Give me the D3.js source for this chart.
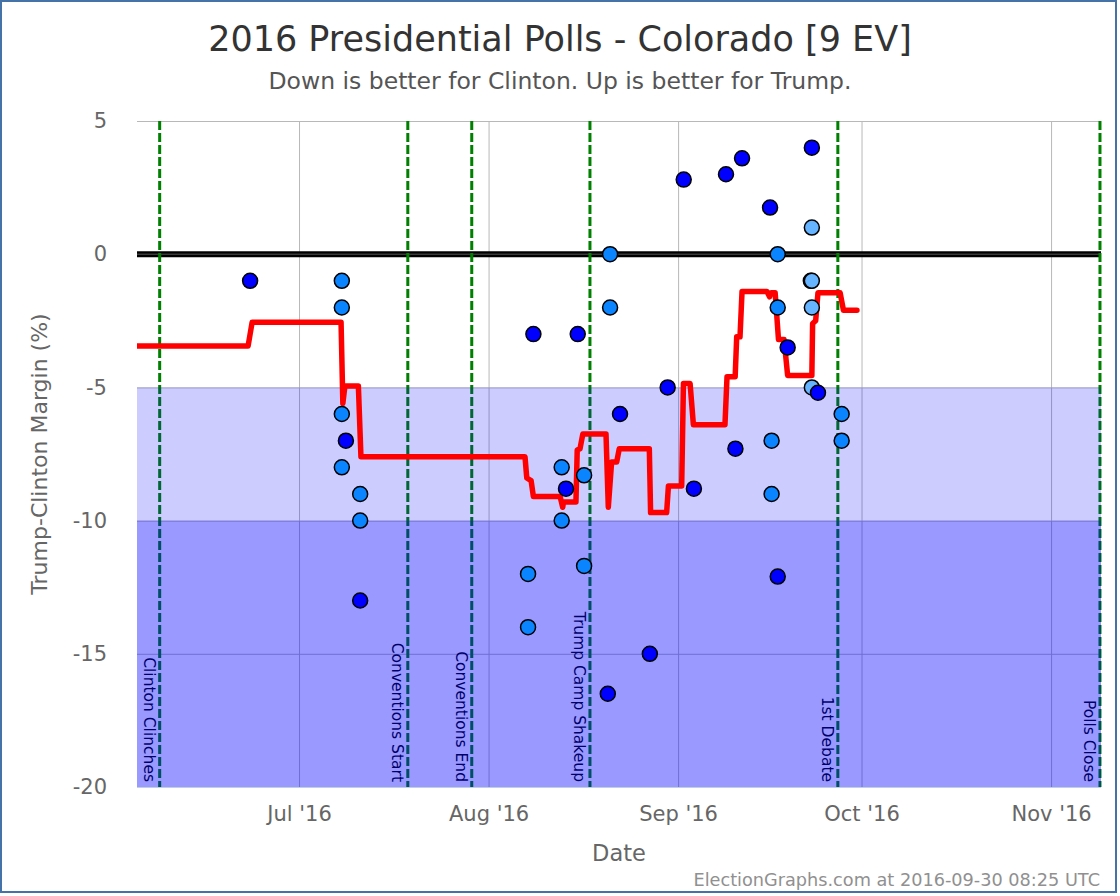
<!DOCTYPE html>
<html><head><meta charset="utf-8">
<script src="https://cdn.jsdelivr.net/npm/d3@7"></script>
<style>
body{margin:0;background:#fff}
svg{display:block}
text{font-family:"DejaVu Sans",sans-serif}
</style>
</head><body>
<svg id="c" width="1120" height="896"></svg>
<script>
// ---------- data ----------
const titleText = "2016 Presidential Polls - Colorado [9 EV]";
const subtitleText = "Down is better for Clinton. Up is better for Trump.";
const yAxisTitle = "Trump-Clinton Margin (%)";
const xAxisTitle = "Date";
const footerText = "ElectionGraphs.com at 2016-09-30 08:25 UTC";

const yTicks = [5, 0, -5, -10, -15, -20];
const xTickDates = ["2016-07-01", "2016-08-01", "2016-09-01", "2016-10-01", "2016-11-01"];
const xTickLabels = ["Jul '16", "Aug '16", "Sep '16", "Oct '16", "Nov '16"];

const bandFrom = [-5, -10];
const bandTo = [-10, -20];

const eventDates = ["2016-06-08T05:00", "2016-07-18T19:00", "2016-07-29T06:00", "2016-08-17T14:00", "2016-09-27T03:00", "2016-11-09T00:00"];
const eventLabels = ["Clinton Clinches", "Conventions Start", "Conventions End", "Trump Camp Shakeup", "1st Debate", "Polls Close"];

const avgDates = [
  "2016-06-04T12:00", "2016-06-22T16:00", "2016-06-23T08:00", "2016-07-07T21:00", "2016-07-08T04:00",
  "2016-07-08T12:00", "2016-07-10T17:00", "2016-07-11T03:00", "2016-08-06T23:00", "2016-08-07T06:00",
  "2016-08-07T23:00", "2016-08-08T08:00", "2016-08-12T17:00", "2016-08-13T03:00", "2016-08-13T06:00",
  "2016-08-15T07:00", "2016-08-15T12:00", "2016-08-15T23:00", "2016-08-16T10:00", "2016-08-20T05:00",
  "2016-08-20T14:00", "2016-08-21T03:00", "2016-08-21T23:00", "2016-08-22T09:00", "2016-08-27T07:00",
  "2016-08-27T12:00", "2016-08-30T03:00", "2016-08-30T10:00", "2016-09-01T14:00", "2016-09-01T21:00",
  "2016-09-02T23:00", "2016-09-03T12:00", "2016-09-08T16:00", "2016-09-09T00:00", "2016-09-10T08:00",
  "2016-09-10T14:00", "2016-09-11T03:00", "2016-09-11T11:00", "2016-09-15T13:00", "2016-09-15T23:00",
  "2016-09-16T05:00", "2016-09-16T21:00", "2016-09-17T10:00", "2016-09-18T08:00", "2016-09-18T22:00",
  "2016-09-22T21:00", "2016-09-23T00:00", "2016-09-23T12:00", "2016-09-23T21:00", "2016-09-27T12:00",
  "2016-09-28T01:00", "2016-09-30T06:00"
];
const avgMargins = [
  -3.45, -3.45, -2.55, -2.55, -5.6,
  -4.95, -4.95, -7.6, -7.6, -8.4,
  -8.5, -9.1, -9.1, -9.5, -9.3,
  -9.3, -7.35, -7.3, -6.75, -6.75,
  -9.5, -7.8, -7.8, -7.3, -7.3,
  -9.7, -9.7, -8.7, -8.7, -4.85,
  -4.85, -6.4, -6.4, -4.6, -4.6,
  -3.1, -3.1, -1.4, -1.4, -1.6,
  -1.45, -1.45, -3.2, -3.2, -4.55,
  -4.55, -2.6, -2.5, -1.45, -1.45,
  -2.1, -2.1
];

const pollDates = [
  "2016-06-23T00:00", "2016-07-08T00:00", "2016-07-08T00:00", "2016-07-08T00:00", "2016-07-08T16:00",
  "2016-07-08T00:00", "2016-07-11T00:00", "2016-07-11T00:00", "2016-07-11T00:00", "2016-08-07T11:00",
  "2016-08-07T11:00", "2016-08-08T08:00", "2016-08-12T23:00", "2016-08-12T23:00", "2016-08-13T16:00",
  "2016-08-15T14:00", "2016-08-16T15:00", "2016-08-16T15:00", "2016-08-20T12:00", "2016-08-20T21:00",
  "2016-08-20T21:00", "2016-08-22T12:00", "2016-08-27T09:00", "2016-08-30T07:00", "2016-09-01T22:00",
  "2016-09-03T14:00", "2016-09-08T20:00", "2016-09-10T09:00", "2016-09-11T11:00", "2016-09-16T01:00",
  "2016-09-16T07:00", "2016-09-16T07:00", "2016-09-17T07:00", "2016-09-17T07:00", "2016-09-17T07:00",
  "2016-09-18T22:00", "2016-09-22T21:00", "2016-09-22T21:00", "2016-09-22T17:00", "2016-09-22T21:00",
  "2016-09-22T21:00", "2016-09-22T21:00", "2016-09-23T21:00", "2016-09-27T18:00", "2016-09-27T18:00"
];
const pollMargins = [
  -1, -1, -2, -6, -7,
  -8, -9, -10, -13, -12,
  -14, -3, -8, -10, -8.8,
  -3, -8.3, -11.7, -16.5, 0,
  -2, -6, -15, -5, 2.8,
  -8.8, 3, -7.3, 3.6, 1.75,
  -7, -9, 0, -2, -12.1,
  -3.5, 4, 1, -1, -1,
  -2, -5, -5.2, -6, -7
];
const pollKinds = [
  "dark", "mid", "mid", "mid", "dark",
  "mid", "mid", "mid", "dark", "mid",
  "mid", "dark", "mid", "mid", "dark",
  "dark", "mid", "mid", "dark", "mid",
  "mid", "dark", "dark", "dark", "dark",
  "dark", "dark", "dark", "dark", "dark",
  "mid", "mid", "mid", "mid", "dark",
  "dark", "dark", "light", "light", "light",
  "light", "light", "dark", "mid", "mid"
];

// ---------- layout / style ----------
const W = 1120, H = 896;
const plot = {left: 137, right: 1101, top: 121, bottom: 787};
const kindColor = {dark: "#0000ff", mid: "#0a84ff", light: "#66b3ff"};
const bandColor = ["rgba(0,0,255,0.2)", "rgba(0,0,255,0.4)"];

const parse = s => new Date(s + (s.length > 10 ? ":00Z" : "T00:00:00Z"));

const x = d3.scaleUtc()
  .domain([parse("2016-06-04T12:00"), parse("2016-11-09T04:00")])
  .range([plot.left, plot.right]);
const y = d3.scaleLinear().domain([-20, 5]).range([plot.bottom, plot.top]);

const svg = d3.select("#c");
svg.append("rect").attr("x", 0).attr("y", 0).attr("width", W).attr("height", H).attr("fill", "#fff");
svg.append("rect").attr("x", 1).attr("y", 1).attr("width", 1115).attr("height", 891)
  .attr("fill", "#fff").attr("stroke", "#4572A7").attr("stroke-width", 2);

svg.append("defs").append("clipPath").attr("id", "clip")
  .append("rect").attr("x", plot.left).attr("y", plot.top)
  .attr("width", plot.right - plot.left).attr("height", plot.bottom - plot.top);

// gridlines
const gx = svg.append("g").attr("transform", `translate(0,${plot.bottom})`)
  .call(d3.axisBottom(x).tickValues(xTickDates.map(parse)).tickSize(-(plot.bottom - plot.top)).tickFormat(""));
gx.select(".domain").remove();
gx.selectAll("line").attr("stroke", "#b8b8b8").attr("stroke-width", 1);

const gy = svg.append("g").attr("transform", `translate(${plot.left},0)`)
  .call(d3.axisLeft(y).tickValues(yTicks.filter(v => v > -20)).tickSize(-(plot.right - plot.left)).tickFormat(""));
gy.select(".domain").remove();
gy.selectAll("line").attr("stroke", "#b8b8b8").attr("stroke-width", 1);

// zero line
svg.append("line").attr("x1", plot.left).attr("x2", plot.right).attr("y1", y(0)).attr("y2", y(0))
  .attr("stroke", "#000").attr("stroke-width", 6);
svg.append("line").attr("x1", plot.left).attr("x2", plot.right).attr("y1", y(0)).attr("y2", y(0))
  .attr("stroke", "#555").attr("stroke-width", 1);

// event lines + labels
const ev = svg.append("g");
eventDates.forEach((d, i) => {
  const lx = x(parse(d));
  ev.append("line").attr("x1", lx).attr("x2", lx).attr("y1", plot.top).attr("y2", plot.bottom)
    .attr("stroke", "#008000").attr("stroke-width", 3).attr("stroke-dasharray", "9,3");
  ev.append("text").attr("transform", `translate(${lx - 16},${plot.bottom - 5}) rotate(90)`)
    .attr("text-anchor", "end").attr("font-size", 15.5).attr("fill", "#000").text(eventLabels[i]);
});

// plot bands (translucent, over the lines)
bandFrom.forEach((f, i) => {
  svg.append("rect").attr("x", plot.left).attr("width", plot.right - plot.left)
    .attr("y", y(f)).attr("height", y(bandTo[i]) - y(f)).attr("fill", bandColor[i]);
});

// bottom axis line
svg.append("line").attr("x1", plot.left).attr("x2", plot.right).attr("y1", plot.bottom + 0.5).attr("y2", plot.bottom + 0.5)
  .attr("stroke", "#c0d0e0").attr("stroke-width", 1);

// average line
const avg = avgDates.map((d, i) => ({d: parse(d), v: avgMargins[i]}));
svg.append("path").datum(avg).attr("clip-path", "url(#clip)")
  .attr("fill", "none").attr("stroke", "#ff0000").attr("stroke-width", 5.5)
  .attr("stroke-linejoin", "round").attr("stroke-linecap", "round")
  .attr("d", d3.line().x(p => x(p.d)).y(p => y(p.v)));

// polls
const polls = pollDates.map((d, i) => ({d: parse(d), v: pollMargins[i], k: pollKinds[i]}));
svg.append("g").selectAll("circle").data(polls).join("circle")
  .attr("cx", p => x(p.d)).attr("cy", p => y(p.v)).attr("r", 7.5)
  .attr("fill", p => kindColor[p.k]).attr("stroke", "#000").attr("stroke-width", 1.5);

// axes labels
const ay = svg.append("g").attr("transform", `translate(${plot.left},0)`)
  .call(d3.axisLeft(y).tickValues(yTicks).tickSize(0).tickPadding(30).tickFormat(v => String(v)));
ay.select(".domain").remove();
ay.selectAll("text").attr("font-size", 21).attr("fill", "#666").attr("font-family", "DejaVu Sans");

const ax = svg.append("g").attr("transform", `translate(0,${plot.bottom})`)
  .call(d3.axisBottom(x).tickValues(xTickDates.map(parse)).tickSize(0).tickPadding(19).tickFormat((d, i) => xTickLabels[i]));
ax.select(".domain").remove();
ax.selectAll("text").attr("font-size", 21).attr("fill", "#666").attr("font-family", "DejaVu Sans");

// titles
svg.append("text").attr("x", 560).attr("y", 51).attr("text-anchor", "middle")
  .attr("font-size", 35).attr("fill", "#333").text(titleText);
svg.append("text").attr("x", 560).attr("y", 89).attr("text-anchor", "middle")
  .attr("font-size", 23.5).attr("fill", "#555").text(subtitleText);
svg.append("text").attr("transform", `translate(47,${(plot.top + plot.bottom) / 2}) rotate(-90)`)
  .attr("text-anchor", "middle").attr("font-size", 22).attr("fill", "#666").text(yAxisTitle);
svg.append("text").attr("x", (plot.left + plot.right) / 2).attr("y", 861).attr("text-anchor", "middle")
  .attr("font-size", 22.5).attr("fill", "#666").text(xAxisTitle);
svg.append("text").attr("x", 1100).attr("y", 886).attr("text-anchor", "end")
  .attr("font-size", 17.7).attr("fill", "#909090").text(footerText);
</script>
</body></html>
